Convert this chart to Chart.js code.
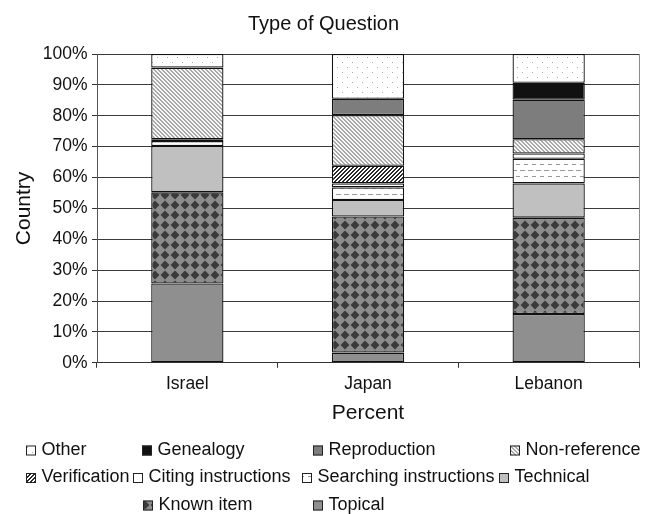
<!DOCTYPE html>
<html>
<head>
<meta charset="utf-8">
<script src="https://cdn.jsdelivr.net/npm/chart.js@4"></script>
<style>
  html, body { margin: 0; padding: 0; background: #fff; }
</style>
</head>
<body>
<canvas id="chart" width="656" height="514"></canvas>
<script>
// data (percent of questions per country)
const countries = ['Israel', 'Japan', 'Lebanon'];
const topical      = [25.7,  3.3, 15.8];
const knownItem    = [29.5, 44.1, 31.2];
const technical    = [15.0,  5.3, 11.1];
const searching    = [ 1.6,  4.1,  8.0];
const citing       = [ 0.6,  1.3,  1.7];
const verification = [ 0.0,  5.7,  0.0];
const nonReference = [23.2, 16.4,  4.6];
const reproduction = [ 0.0,  5.3, 12.8];
const genealogy    = [ 0.0,  0.0,  5.5];
const other        = [ 4.4, 14.5,  9.3];

Chart.defaults.font.family = "'Liberation Sans', Arial, sans-serif";
Chart.defaults.color = '#111';

// small tiles for the grey-scale fills
function tile(w, h, draw) {
  const c = document.createElement('canvas');
  c.width = w; c.height = h;
  const g = c.getContext('2d');
  draw(g, w, h);
  return g.createPattern(c, 'repeat');
}

const fills = {
  other: tile(10, 10, (g) => {
    g.fillStyle = '#fff'; g.fillRect(0, 0, 10, 10);
    g.fillStyle = '#aaa'; g.fillRect(2, 2, 1, 1); g.fillRect(7, 7, 1, 1);
  }),
  genealogy: '#111',
  reproduction: '#7d7d7d',
  nonReference: tile(4, 4, (g) => {
    g.fillStyle = '#f6f6f6'; g.fillRect(0, 0, 4, 4);
    g.fillStyle = '#aaa';
    for (let i = 0; i < 4; i++) { g.fillRect(i, i, 1, 1); g.fillRect((i + 1) % 4, i, 1, 1); }
  }),
  verification: tile(4, 4, (g) => {
    g.fillStyle = '#fff'; g.fillRect(0, 0, 4, 4);
    g.fillStyle = '#2a2a2a';
    for (let i = 0; i < 4; i++) { g.fillRect(3 - i, i, 1, 1); g.fillRect((4 - i) % 4, i, 1, 1); }
  }),
  citing: '#fff',
  searching: tile(8, 12, (g) => {
    g.fillStyle = '#fff'; g.fillRect(0, 0, 8, 12);
    g.fillStyle = '#999'; g.fillRect(0, 2, 5, 1); g.fillRect(4, 8, 5, 1);
  }),
  technical: '#c0c0c0',
  knownItem: tile(10, 10, (g) => {
    g.fillStyle = '#8c8c8c'; g.fillRect(0, 0, 10, 10);
    g.fillStyle = '#3a3a3a';
    g.beginPath(); g.moveTo(5, 0.6); g.lineTo(9.4, 5); g.lineTo(5, 9.4); g.lineTo(0.6, 5); g.closePath(); g.fill();
  }),
  topical: '#8f8f8f'
};

// stacked bottom to top
const series = [
  ['Topical', topical, fills.topical],
  ['Known item', knownItem, fills.knownItem],
  ['Technical', technical, fills.technical],
  ['Searching instructions', searching, fills.searching],
  ['Citing instructions', citing, fills.citing],
  ['Verification', verification, fills.verification],
  ['Non-reference', nonReference, fills.nonReference],
  ['Reproduction', reproduction, fills.reproduction],
  ['Genealogy', genealogy, fills.genealogy],
  ['Other', other, fills.other]
];

const datasets = series.map(([label, data, fill]) => ({
  label: label,
  data: data,
  backgroundColor: fill,
  borderColor: '#111',
  borderWidth: 1.3,
  borderSkipped: false,
  categoryPercentage: 1,
  barPercentage: 0.4
}));

// Excel-like legend grid underneath the plot
const legendSlots = [
  ['Other', 26, 450], ['Genealogy', 142, 450], ['Reproduction', 313, 450], ['Non-reference', 510, 450],
  ['Verification', 26, 477.5], ['Citing instructions', 133, 477.5], ['Searching instructions', 302, 477.5], ['Technical', 499, 477.5],
  ['Known item', 143, 505], ['Topical', 313, 505]
];

const gridLegend = {
  id: 'gridLegend',
  afterDraw(chart) {
    const ctx = chart.ctx;
    ctx.save();
    ctx.font = "18px 'Liberation Sans', Arial, sans-serif";
    ctx.textBaseline = 'middle';
    ctx.textAlign = 'left';
    legendSlots.forEach(([label, x, y]) => {
      const ds = chart.data.datasets.find(d => d.label === label);
      ctx.fillStyle = ds.backgroundColor;
      ctx.fillRect(x, y - 4.5, 10, 10);
      ctx.strokeStyle = '#222';
      ctx.lineWidth = 1;
      ctx.strokeRect(x + 0.5, y - 4, 9, 9);
      ctx.fillStyle = '#111';
      ctx.fillText(label, x + 15.5, y);
    });
    ctx.restore();
  }
};

new Chart(document.getElementById('chart'), {
  type: 'bar',
  data: { labels: countries, datasets: datasets },
  plugins: [gridLegend],
  options: {
    responsive: false,
    animation: false,
    layout: { padding: { left: 8, right: 17, top: 0, bottom: 84 } },
    plugins: {
      legend: { display: false },
      tooltip: { enabled: false },
      title: {
        display: true,
        text: 'Type of Question',
        color: '#111',
        font: { size: 20, weight: 'normal' },
        padding: { top: 12, bottom: 18 }
      }
    },
    scales: {
      x: {
        stacked: true,
        grid: {
          offset: true,
          color: c => c.index === undefined ? '#8a8a8a' : 'rgba(0,0,0,0)',
          tickColor: '#333',
          tickLength: 5
        },
        border: { color: '#333' },
        ticks: { color: '#111', font: { size: 17.5 }, padding: 6 },
        title: {
          display: true,
          text: 'Percent',
          color: '#111',
          font: { size: 21 },
          padding: { top: 0, bottom: 4 }
        }
      },
      y: {
        stacked: true,
        min: 0,
        max: 100,
        afterFit: s => { s.width = 89; },
        grid: { color: '#3a3a3a', tickColor: '#333', tickLength: 5 },
        border: { color: '#555' },
        ticks: {
          stepSize: 10,
          color: '#111',
          font: { size: 17.5 },
          padding: 4.5,
          callback: v => v + '%'
        },
        title: {
          display: true,
          text: 'Country',
          color: '#111',
          font: { size: 21 }
        }
      }
    }
  }
});
</script>
</body>
</html>
